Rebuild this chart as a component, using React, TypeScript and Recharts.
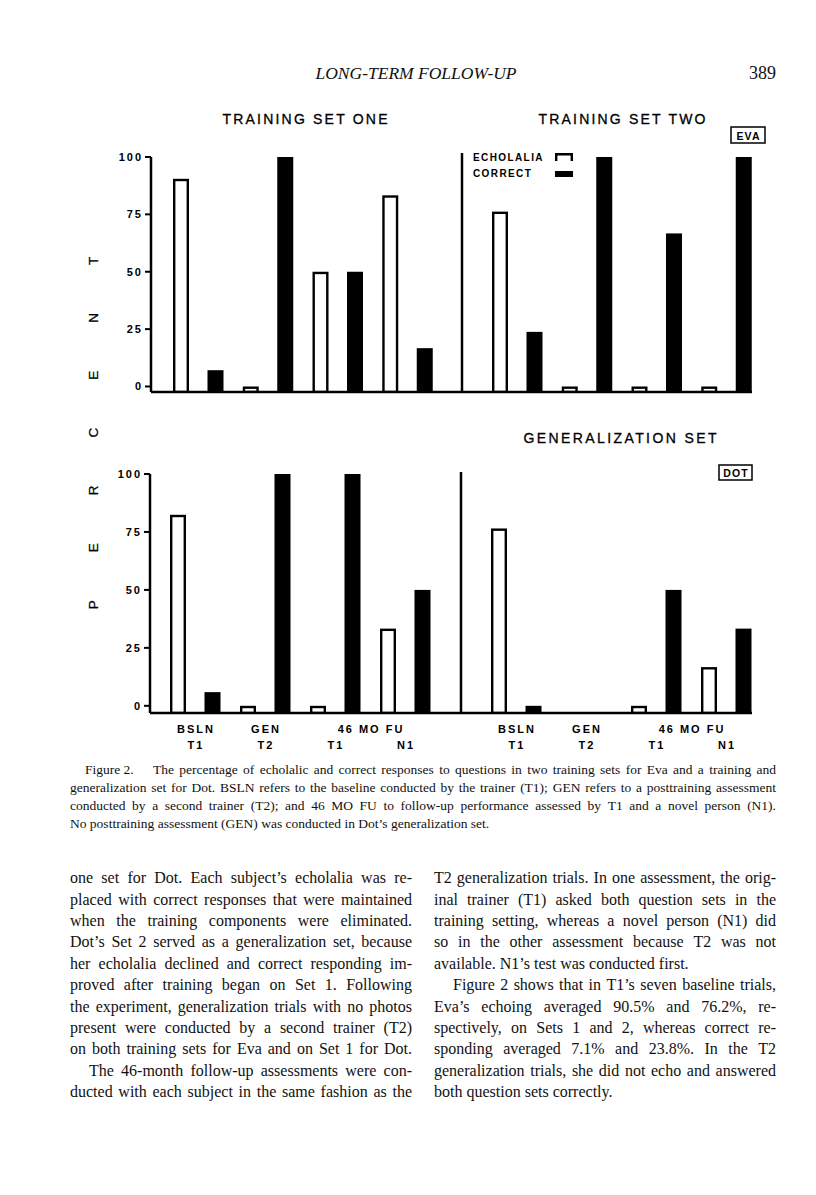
import React from 'react';
import { BarChart, Bar, XAxis, YAxis, Legend } from 'recharts';

const SANS = '"Liberation Sans", Arial, Helvetica, sans-serif';
const SERIF_NAME = 'Liberation Serif';
const SERIF = '"Liberation Serif", "Times New Roman", serif';

// ---------- data ----------
const conditionLabels = ['BSLN', 'GEN', '46 MO FU', ''];
const assessorLabels = ['T1', 'T2', 'T1', 'N1'];
const percentTicks = [0, 25, 50, 75, 100];
const seriesNames = ['ECHOLALIA', 'CORRECT'];

const evaSetOneEcholalia = [90.5, 0, 50, 83.3];
const evaSetOneCorrect = [7.1, 100, 50, 16.7];
const evaSetTwoEcholalia = [76.2, 0, 0, 0];
const evaSetTwoCorrect = [23.8, 100, 66.7, 100];
const dotSetOneEcholalia = [82.4, 0, 0, 33.3];
const dotSetOneCorrect = [5.9, 100, 100, 50];
const dotGeneralizationEcholalia: (number | null)[] = [76.5, null, 0, 16.7];
const dotGeneralizationCorrect: (number | null)[] = [0, null, 50, 33.3];

const panelTitles = ['TRAINING SET ONE', 'TRAINING SET TWO', 'GENERALIZATION SET'];
const subjectNames = ['EVA', 'DOT'];

// ---------- axis config ----------
const TOP_Y_MIN = -2.4;
const BOTTOM_Y_MIN = -3.1;

const buildRows = (echo: (number | null)[], correct: (number | null)[]) =>
  conditionLabels.map((_, i) => ({ slot: String(i), echolalia: echo[i], correct: correct[i] }));

const makeKey = (field: 'echolalia' | 'correct', base: number) => (d: any) =>
  d[field] == null ? null : [base, d[field]];

const topEchoKey = makeKey('echolalia', TOP_Y_MIN);
const topCorrectKey = makeKey('correct', TOP_Y_MIN);
const bottomEchoKey = makeKey('echolalia', BOTTOM_Y_MIN);
const bottomCorrectKey = makeKey('correct', BOTTOM_Y_MIN);

const rowsEvaOne = buildRows(evaSetOneEcholalia, evaSetOneCorrect);
const rowsEvaTwo = buildRows(evaSetTwoEcholalia, evaSetTwoCorrect);
const rowsDotOne = buildRows(dotSetOneEcholalia, dotSetOneCorrect);
const rowsDotGen = buildRows(dotGeneralizationEcholalia, dotGeneralizationCorrect);

// ---------- shapes ----------
const norm = (p: any) => {
  const { x, y, width, height } = p;
  if (x == null || y == null || !width || !height) return null;
  const top = height < 0 ? y + height : y;
  return { x, top, width, h: Math.abs(height) };
};

const HollowBar = (p: any) => {
  const r = norm(p);
  if (!r || p.value == null) return null;
  const sw = 2.4;
  return (
    <rect
      x={r.x + sw / 2}
      y={r.top + sw / 2}
      width={r.width - sw}
      height={Math.max(r.h - sw / 2, 0)}
      fill="#fff"
      stroke="#000"
      strokeWidth={sw}
    />
  );
};

const SolidBar = (p: any) => {
  const r = norm(p);
  if (!r || p.value == null) return null;
  return <rect x={r.x} y={r.top} width={r.width} height={r.h} fill="#000" />;
};

const tickText = { fontFamily: SANS, fontSize: 11, fontWeight: 700, fill: '#000', letterSpacing: 2 };

const CategoryTick = (props: any) => {
  const { x, y, payload, band } = props;
  const i = Number(payload.value);
  const group = conditionLabels[i];
  const shift = conditionLabels[i + 1] === '' ? band / 2 : 0;
  return (
    <g>
      {group ? (
        <text x={x + shift} y={y + 16} dx={1} textAnchor="middle" dominantBaseline="central" {...tickText}>
          {group}
        </text>
      ) : null}
      <text x={x} y={y + 32} dx={1} textAnchor="middle" dominantBaseline="central" {...tickText}>
        {assessorLabels[i]}
      </text>
    </g>
  );
};

const LegendContent = (props: any) => {
  const payload = [...(props.payload || [])].sort(
    (a: any, b: any) => seriesNames.indexOf(a.value) - seriesNames.indexOf(b.value)
  );
  return (
    <div style={{ fontFamily: SANS, fontSize: 10, fontWeight: 700, letterSpacing: 1.4, color: '#000' }}>
      {payload.map((item: any, i: number) => (
        <div key={i} style={{ display: 'flex', alignItems: 'center', height: 16.5 }}>
          <span style={{ width: 82, display: 'inline-block' }}>{item.value}</span>
          <svg width={18} height={8} style={{ display: 'block' }}>
            {item.value === seriesNames[0] ? (
              <path d="M1.2,8 V1.2 H16.8 V8" fill="none" stroke="#000" strokeWidth={2.4} />
            ) : (
              <rect x={0} y={1} width={18} height={6} fill="#000" />
            )}
          </svg>
        </div>
      ))}
    </div>
  );
};

type PanelProps = {
  rows: any[];
  plotLeft: number;
  plotTop: number;
  plotWidth: number;
  plotHeight: number;
  yMin: number;
  yMax: number;
  withTicks: boolean;
  padding: { left: number; right: number };
  showLabels: boolean;
  band: number;
  axisLength?: number;
  echoKey: any;
  correctKey: any;
  legendAt?: { x: number; y: number };
};

function Panel(p: PanelProps) {
  const yAxisWidth = p.withTicks ? 45 : 1;
  const m = { top: 6, right: 6, bottom: 6, left: 6 };
  const xAxisHeight = p.showLabels ? 44 : 2;
  const width = m.left + yAxisWidth + p.plotWidth + m.right;
  const height = m.top + p.plotHeight + xAxisHeight + m.bottom;
  const left = p.plotLeft - yAxisWidth - m.left;
  const top = p.plotTop - m.top;
  const axisLine: any = { stroke: '#000', strokeWidth: 2.5 };
  const xAxisLine: any = p.axisLength
    ? { ...axisLine, strokeDasharray: `${p.axisLength} 2000` }
    : axisLine;
  return (
    <div style={{ position: 'absolute', left, top, width, height }}>
      <BarChart width={width} height={height} data={p.rows} margin={m} barGap={18.5} barSize={16}>
        <XAxis
          dataKey="slot"
          type="category"
          padding={p.padding}
          height={xAxisHeight}
          axisLine={xAxisLine}
          tickLine={false}
          tickSize={0}
          tickMargin={0}
          interval={0}
          tick={p.showLabels ? <CategoryTick band={p.band} /> : false}
        />
        <YAxis
          type="number"
          domain={[p.yMin, p.yMax]}
          allowDataOverflow
          ticks={p.withTicks ? percentTicks : []}
          interval={0}
          width={yAxisWidth}
          axisLine={axisLine}
          tickLine={p.withTicks ? { stroke: '#000', strokeWidth: 2 } : false}
          tickSize={6}
          tickMargin={2}
          tick={p.withTicks ? tickText : false}
        />
        {p.legendAt ? (
          <Legend
            layout="horizontal"
            verticalAlign="middle"
            align="center"
            content={<LegendContent />}
            wrapperStyle={{ left: p.legendAt.x - left, top: p.legendAt.y - top, width: 'auto', height: 'auto' }}
          />
        ) : null}
        <Bar
          name={seriesNames[0]}
          dataKey={p.echoKey}
          fill="#fff"
          stroke="#000"
          shape={<HollowBar />}
          isAnimationActive={false}
        />
        <Bar
          name={seriesNames[1]}
          dataKey={p.correctKey}
          fill="#000"
          shape={<SolidBar />}
          isAnimationActive={false}
        />
      </BarChart>
    </div>
  );
}

// ---------- page text ----------
const captionLines = [
  { text: 'The percentage of echolalic and correct responses to questions in two training sets for Eva and a training and', x: 153, justify: true },
  { text: 'generalization set for Dot. BSLN refers to the baseline conducted by the trainer (T1); GEN refers to a posttraining assessment', x: 70, justify: true },
  { text: 'conducted by a second trainer (T2); and 46 MO FU to follow-up performance assessed by T1 and a novel person (N1).', x: 70, justify: true },
  { text: 'No posttraining assessment (GEN) was conducted in Dot\u2019s generalization set.', x: 70, justify: false },
];

const leftColumn = [
  { text: 'one set for Dot. Each subject\u2019s echolalia was re-', indent: false, justify: true },
  { text: 'placed with correct responses that were maintained', indent: false, justify: true },
  { text: 'when the training components were eliminated.', indent: false, justify: true },
  { text: 'Dot\u2019s Set 2 served as a generalization set, because', indent: false, justify: true },
  { text: 'her echolalia declined and correct responding im-', indent: false, justify: true },
  { text: 'proved after training began on Set 1. Following', indent: false, justify: true },
  { text: 'the experiment, generalization trials with no photos', indent: false, justify: true },
  { text: 'present were conducted by a second trainer (T2)', indent: false, justify: true },
  { text: 'on both training sets for Eva and on Set 1 for Dot.', indent: false, justify: true },
  { text: 'The 46-month follow-up assessments were con-', indent: true, justify: true },
  { text: 'ducted with each subject in the same fashion as the', indent: false, justify: true },
];

const rightColumn = [
  { text: 'T2 generalization trials. In one assessment, the orig-', indent: false, justify: true },
  { text: 'inal trainer (T1) asked both question sets in the', indent: false, justify: true },
  { text: 'training setting, whereas a novel person (N1) did', indent: false, justify: true },
  { text: 'so in the other assessment because T2 was not', indent: false, justify: true },
  { text: 'available. N1\u2019s test was conducted first.', indent: false, justify: false },
  { text: 'Figure 2 shows that in T1\u2019s seven baseline trials,', indent: true, justify: true },
  { text: 'Eva\u2019s echoing averaged 90.5% and 76.2%, re-', indent: false, justify: true },
  { text: 'spectively, on Sets 1 and 2, whereas correct re-', indent: false, justify: true },
  { text: 'sponding averaged 7.1% and 23.8%. In the T2', indent: false, justify: true },
  { text: 'generalization trials, she did not echo and answered', indent: false, justify: true },
  { text: 'both question sets correctly.', indent: false, justify: false },
];

let measureCtx: CanvasRenderingContext2D | null = null;
const measure = (s: string, font: string, fallbackSize: number) => {
  if (!measureCtx && typeof document !== 'undefined') {
    measureCtx = document.createElement('canvas').getContext('2d');
  }
  if (!measureCtx) return s.length * fallbackSize * 0.44;
  measureCtx.font = font;
  return measureCtx.measureText(s).width;
};

function TextLine({ text, x, y, width, fontSize, justify, italic }: any) {
  const font = `${italic ? 'italic ' : ''}${fontSize}px "${SERIF_NAME}"`;
  const words = text.split(' ');
  const common = { fontFamily: SERIF, fontSize, fill: '#111', fontStyle: italic ? 'italic' : 'normal' };
  if (!justify || words.length < 2) {
    const natural = measure(text, font, fontSize);
    const s = natural > width ? width / natural : 1;
    return (
      <text transform={`translate(${x},${y}) scale(${s},1)`} {...common}>
        {text}
      </text>
    );
  }
  const ws = words.map((w: string) => measure(w, font, fontSize));
  const total = ws.reduce((a: number, b: number) => a + b, 0);
  const minGap = 0.2 * fontSize;
  let gap = (width - total) / (words.length - 1);
  let s = 1;
  if (gap < minGap) {
    s = width / (total + minGap * (words.length - 1));
    gap = minGap;
  }
  let cx = 0;
  const xs = ws.map((w: number) => {
    const v = cx;
    cx += w + gap;
    return v;
  });
  return (
    <text transform={`translate(${x},${y}) scale(${s},1)`} {...common}>
      {words.map((w: string, i: number) => (
        <tspan key={i} x={xs[i]}>
          {w}
        </tspan>
      ))}
    </text>
  );
}

const TEXT_LEFT = 70;
const TEXT_RIGHT = 776;
const COL_WIDTH = 342;
const RIGHT_COL_LEFT = TEXT_RIGHT - COL_WIDTH;
const INDENT = 19;

export default function App() {
  const captionBase = 773.6;
  const captionLH = 18;
  const captionSize = 13.5;
  const bodyBase = 883.2;
  const bodyLH = 21.4;
  const bodySize = 16;
  const percentLS = 48;
  const titleStyle: any = {
    fontFamily: SANS,
    fontSize: 14,
    fill: '#000',
    stroke: '#000',
    strokeWidth: 0.3,
    textAnchor: 'middle',
    dominantBaseline: 'central',
  };
  return (
    <div style={{ position: 'absolute', left: 0, top: 0, width: 816, height: 1195, background: '#fff', overflow: 'hidden' }}>
      <Panel
        rows={rowsEvaOne}
        plotLeft={151}
        plotTop={157}
        plotWidth={311}
        plotHeight={235}
        yMin={TOP_Y_MIN}
        yMax={100}
        withTicks
        padding={{ left: 12, right: 20 }}
        showLabels={false}
        band={69.75}
        echoKey={topEchoKey}
        correctKey={topCorrectKey}
      />
      <Panel
        rows={rowsEvaTwo}
        plotLeft={462}
        plotTop={153}
        plotWidth={299}
        plotHeight={239}
        yMin={TOP_Y_MIN}
        yMax={101.74}
        withTicks={false}
        padding={{ left: 20, right: 0 }}
        showLabels={false}
        band={69.75}
        axisLength={290}
        echoKey={topEchoKey}
        correctKey={topCorrectKey}
        legendAt={{ x: 473, y: 149 }}
      />
      <Panel
        rows={rowsDotOne}
        plotLeft={150}
        plotTop={474}
        plotWidth={311}
        plotHeight={239}
        yMin={BOTTOM_Y_MIN}
        yMax={100}
        withTicks
        padding={{ left: 10, right: 21 }}
        showLabels
        band={70}
        echoKey={bottomEchoKey}
        correctKey={bottomCorrectKey}
      />
      <Panel
        rows={rowsDotGen}
        plotLeft={461}
        plotTop={472}
        plotWidth={300}
        plotHeight={241}
        yMin={BOTTOM_Y_MIN}
        yMax={100.86}
        withTicks={false}
        padding={{ left: 20, right: 0 }}
        showLabels
        band={70}
        axisLength={291}
        echoKey={bottomEchoKey}
        correctKey={bottomCorrectKey}
      />

      <svg width={816} height={1195} style={{ position: 'absolute', left: 0, top: 0, pointerEvents: 'none' }}>
        <text x={416} y={79} textAnchor="middle" fontFamily={SERIF} fontStyle="italic" fontSize={17.5} fill="#111">
          LONG-TERM FOLLOW-UP
        </text>
        <text x={776} y={79} textAnchor="end" fontFamily={SERIF} fontSize={18} fill="#111">
          389
        </text>
        <text x={305} y={119} dx={1.1} letterSpacing={2.2} {...titleStyle}>
          {panelTitles[0]}
        </text>
        <text x={622} y={119} dx={1.1} letterSpacing={2.2} {...titleStyle}>
          {panelTitles[1]}
        </text>
        <text x={620} y={438} dx={1.2} letterSpacing={2.4} {...titleStyle}>
          {panelTitles[2]}
        </text>
        <rect x={731} y={127} width={34} height={16} fill="none" stroke="#000" strokeWidth={1.5} />
        <text x={748} y={135.5} dx={0.6} textAnchor="middle" dominantBaseline="central" fontFamily={SANS} fontSize={10.5} fontWeight={700} letterSpacing={1.2} fill="#000">
          {subjectNames[0]}
        </text>
        <rect x={719} y={465} width={33} height={15} fill="none" stroke="#000" strokeWidth={1.5} />
        <text x={735.5} y={473} dx={0.6} textAnchor="middle" dominantBaseline="central" fontFamily={SANS} fontSize={10.5} fontWeight={700} letterSpacing={1.2} fill="#000">
          {subjectNames[1]}
        </text>
        <text
          x={93}
          y={433 - percentLS / 2}
          textAnchor="middle"
          dominantBaseline="central"
          transform={`rotate(-90 93 ${433 - percentLS / 2})`}
          fontFamily={SANS}
          fontSize={13.5}
          letterSpacing={percentLS}
          fill="#000"
          stroke="#000"
          strokeWidth={0.25}
        >
          PERCENT
        </text>

        <TextLine text="Figure 2." x={85} y={captionBase} width={60} fontSize={captionSize} justify={false} />
        {captionLines.map((l, i) => (
          <TextLine
            key={'c' + i}
            text={l.text}
            x={l.x}
            y={captionBase + i * captionLH}
            width={TEXT_RIGHT - l.x}
            fontSize={captionSize}
            justify={l.justify}
          />
        ))}
        {leftColumn.map((l, i) => (
          <TextLine
            key={'l' + i}
            text={l.text}
            x={TEXT_LEFT + (l.indent ? INDENT : 0)}
            y={bodyBase + i * bodyLH}
            width={COL_WIDTH - (l.indent ? INDENT : 0)}
            fontSize={bodySize}
            justify={l.justify}
          />
        ))}
        {rightColumn.map((l, i) => (
          <TextLine
            key={'r' + i}
            text={l.text}
            x={RIGHT_COL_LEFT + (l.indent ? INDENT : 0)}
            y={bodyBase + i * bodyLH}
            width={COL_WIDTH - (l.indent ? INDENT : 0)}
            fontSize={bodySize}
            justify={l.justify}
          />
        ))}
      </svg>
    </div>
  );
}
